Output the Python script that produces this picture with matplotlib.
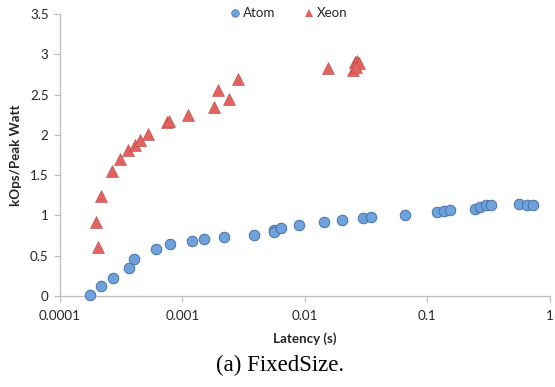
import numpy as np
import matplotlib
matplotlib.use("Agg")
import matplotlib.pyplot as plt
from matplotlib.ticker import FixedLocator, FuncFormatter, NullLocator
import matplotlib.lines as mlines

# Latency (s) and kOps/Peak Watt
atom_latency = [1.76e-4, 2.18e-4, 2.74e-4, 3.70e-4, 4.04e-4, 6.14e-4, 7.98e-4,
                1.21e-3, 1.50e-3, 2.20e-3, 3.82e-3, 5.57e-3, 5.63e-3, 6.42e-3,
                9.00e-3, 0.0144, 0.0200, 0.0299, 0.0344, 0.0652, 0.120, 0.137,
                0.153, 0.244, 0.268, 0.300, 0.328, 0.561, 0.644, 0.721]
atom_eff = [0.01, 0.12, 0.227, 0.351, 0.463, 0.587, 0.641,
            0.679, 0.703, 0.728, 0.761, 0.819, 0.790, 0.840,
            0.877, 0.922, 0.939, 0.964, 0.980, 1.009, 1.038, 1.058,
            1.071, 1.083, 1.104, 1.125, 1.125, 1.138, 1.133, 1.133]

xeon_latency = [2.05e-4, 1.99e-4, 2.18e-4, 2.69e-4, 3.10e-4, 3.59e-4, 4.15e-4,
                4.54e-4, 5.28e-4, 7.55e-4, 7.86e-4, 1.11e-3, 1.80e-3, 1.95e-3,
                2.42e-3, 2.85e-3, 0.0155, 0.0249, 0.0256, 0.0266, 0.0276, 0.0261]
xeon_eff = [0.608, 0.918, 1.244, 1.557, 1.697, 1.811, 1.873,
            1.935, 2.007, 2.163, 2.174, 2.246, 2.341, 2.556,
            2.444, 2.689, 2.825, 2.810, 2.903, 2.922, 2.891, 2.841]

x_ticks = [0.0001, 0.001, 0.01, 0.1, 1]
x_tick_labels = ["0.0001", "0.001", "0.01", "0.1", "1"]
y_ticks = [0, 0.5, 1, 1.5, 2, 2.5, 3, 3.5]

plt.rcParams['font.family'] = ['Lato', 'DejaVu Sans']
text_col = "#262626"
grid_col = "#bfbfbf"
atom_col, atom_edge = "#6fa1dc", "#4572a7"
xeon_col, xeon_edge = "#e2625f", "#b94a48"

W, H = 555, 387
fig = plt.figure(figsize=(W / 100, H / 100), dpi=100)
x0, x1, y0, y1 = 59.7, 550.0, 296, 14
ax = fig.add_axes([x0 / W, 1 - y0 / H, (x1 - x0) / W, (y0 - y1) / H])

ax.plot(atom_latency, atom_eff, linestyle="None", marker="o", markersize=7.6,
        markerfacecolor=atom_col, markeredgecolor=atom_edge, markeredgewidth=0.7,
        zorder=3, clip_on=False)
ax.plot(xeon_latency, xeon_eff, linestyle="None", marker="^", markersize=8.0,
        markerfacecolor=xeon_col, markeredgecolor=xeon_edge, markeredgewidth=0.4,
        zorder=3, clip_on=False)

ax.set_xscale("log")
ax.set_xlim(0.0001, 1)
ax.set_ylim(0, 3.5)
ax.xaxis.set_major_locator(FixedLocator(x_ticks))
ax.xaxis.set_minor_locator(NullLocator())
ax.xaxis.set_major_formatter(FuncFormatter(lambda v, p: x_tick_labels[x_ticks.index(v)] if v in x_ticks else ""))
ax.yaxis.set_major_locator(FixedLocator(y_ticks))
ax.yaxis.set_major_formatter(FuncFormatter(lambda v, p: "%g" % v))

for s in ["top", "right"]:
    ax.spines[s].set_visible(False)
for s in ["left", "bottom"]:
    ax.spines[s].set_color(grid_col)
    ax.spines[s].set_linewidth(0.9)
ax.tick_params(axis="both", direction="out", length=4, width=0.9, color=grid_col,
               labelsize=9.6, labelcolor=text_col)
ax.tick_params(axis="x", pad=6)
ax.tick_params(axis="y", pad=4)

fig.text(305 / W, 1 - 338.3 / H, "Latency (s)", ha="center", va="center",
         fontsize=9.6, fontweight="bold", color=text_col)
fig.text(16 / W, 1 - 155 / H, "kOps/Peak Watt", ha="center", va="center",
         rotation=90, fontsize=9.6, fontweight="bold", color=text_col)
fig.text(280 / W, 1 - 365 / H, "(a) FixedSize.", ha="center", va="center",
         fontsize=16.5, family="Liberation Serif", color="black")

handles = [
    mlines.Line2D([], [], color=atom_col, marker="o", linestyle="None", markersize=5.5,
                  markeredgecolor=atom_edge, markeredgewidth=0.5, label="Atom"),
    mlines.Line2D([], [], color=xeon_col, marker="^", linestyle="None", markersize=6,
                  markeredgewidth=0, label="Xeon"),
]
fig.legend(handles=handles, loc="center", bbox_to_anchor=(289 / W, 1 - 13.3 / H),
           ncol=2, frameon=False, fontsize=9.6, handlelength=0.6, handletextpad=0.3,
           columnspacing=2.2, labelcolor=text_col)

fig.savefig("out.png", dpi=100)
